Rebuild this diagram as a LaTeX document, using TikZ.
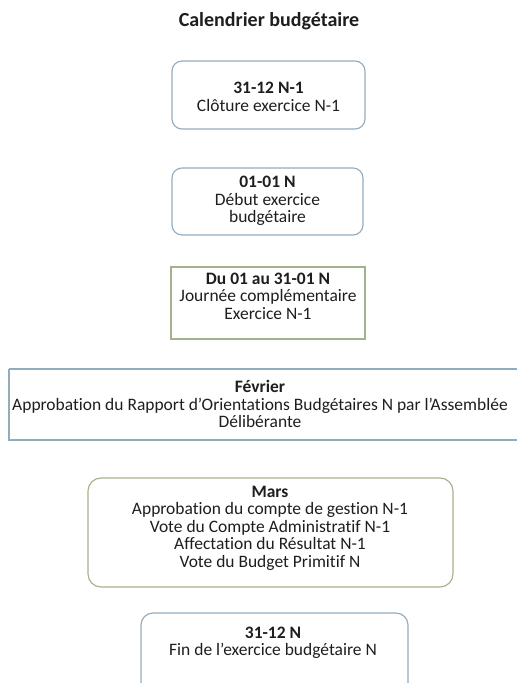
\documentclass[tikz,border=0pt]{standalone}
\usepackage{fontspec}
\setmainfont{Carlito}[Ligatures={NoCommon}]
\definecolor{bluebord}{HTML}{92ABBD}
\definecolor{greenbord}{HTML}{A2B38C}
\definecolor{txt}{HTML}{1E1E1E}
\begin{document}
\begin{tikzpicture}[x=0.75pt,y=-0.75pt,
  bluebox/.style={draw=bluebord,line width=0.85pt},
  greenbox/.style={draw=greenbord,line width=0.85pt},
  label/.style={align=center,text=txt,font=\fontsize{13.1}{13.1}\selectfont,inner sep=0pt}]
\useasboundingbox (0,0) rectangle (517,683);
\clip (0,0) rectangle (517,683);
\fill[white] (0,0) rectangle (517,683);
\node[label,font=\fontsize{15}{17}\selectfont\bfseries] (title) at (269,21) {Calendrier budgétaire};

\draw[bluebox,rounded corners=7.5pt] (172,61) rectangle (365,129);
\node[label] (b1) at (268.5,97) {\textbf{31-12 N-1}\\Clôture exercice N-1};

\draw[bluebox,rounded corners=7.5pt] (172,168) rectangle (363,235);
\node[label] (b2) at (267.5,201) {\textbf{01-01 N}\\Début exercice\\budgétaire};

\draw[greenbox] (171,267) rectangle (365,339);
\node[label] (b3) at (268,296) {\textbf{Du 01 au 31-01 N}\\Journée complémentaire\\Exercice N-1};

\draw[bluebox] (9,369) -- (530,369) (9,369) -- (9,440) -- (530,440);
\node[label] (b4) at (260,404) {\textbf{Février}\\Approbation du Rapport d’Orientations Budgétaires N par l’Assemblée\\Délibérante};

\draw[greenbox,rounded corners=9.75pt] (88,478) rectangle (453,587);
\node[label] (b5) at (270,528) {\textbf{Mars}\\Approbation du compte de gestion N-1\\Vote du Compte Administratif N-1\\Affectation du Résultat N-1\\Vote du Budget Primitif N};

\draw[bluebox,rounded corners=9pt] (141,613) rectangle (408,720);
\node[label] (b6) at (273,643) {\textbf{31-12 N}\\Fin de l’exercice budgétaire N};
\end{tikzpicture}
\end{document}
